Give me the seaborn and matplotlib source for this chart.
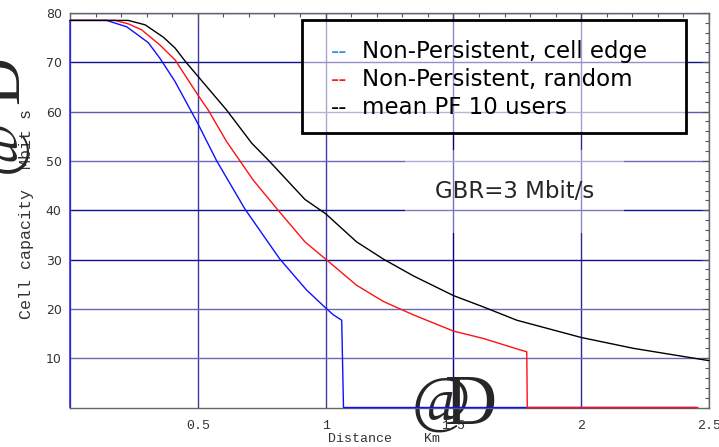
import numpy as np
import pandas as pd
import seaborn as sns
import matplotlib.pyplot as plt
from matplotlib.patches import Rectangle
from matplotlib.ticker import MultipleLocator

# values (distance in km, capacity in Mbit/s)
edge_x = [0, 0, 0.143, 0.222, 0.306, 0.352, 0.411, 0.5, 0.574, 0.685, 0.821,
          0.926, 1.0, 1.03, 1.063, 1.07, 2.45]
edge_y = [0, 78.5, 78.5, 77.2, 74.0, 70.8, 66.1, 57.6, 50.0, 40.2, 30.1,
          23.8, 20.2, 18.8, 17.7, 0, 0]

rand_x = [0, 0.176, 0.228, 0.28, 0.352, 0.411, 0.5, 0.541, 0.613, 0.665, 0.717,
          0.811, 0.919, 1.0, 1.121, 1.226, 1.343, 1.5, 1.617, 1.76, 1.787, 1.789, 2.457]
rand_y = [78.5, 78.5, 77.8, 76.6, 73.5, 70.5, 63.4, 60.3, 53.9, 50.0, 46.1,
          40.2, 33.6, 30.1, 24.8, 21.5, 18.8, 15.5, 14.0, 11.7, 11.3, 0, 0]

pf_x = [0, 0.228, 0.294, 0.365, 0.411, 0.454, 0.5, 0.613, 0.711, 0.779, 0.919,
        1.0, 1.121, 1.226, 1.343, 1.5, 1.617, 1.748, 2.0, 2.204, 2.5]
pf_y = [78.5, 78.5, 77.6, 75.1, 72.9, 70.0, 67.2, 60.3, 53.6, 50.0, 42.2,
        39.3, 33.6, 30.1, 26.7, 22.7, 20.4, 17.7, 14.2, 12.0, 9.5]

legend_labels = ["Non-Persistent, cell edge", "Non-Persistent, random", "mean PF 10 users"]
legend_colors = ["#2f8fd8", "#ff1a1a", "black"]
x_ticks = [0.5, 1, 1.5, 2, 2.5]
x_tick_labels = ["0.5", "1", "1.5", "2", "2.5"]
y_ticks = [10, 20, 30, 40, 50, 60, 70, 80]
annotation = "GBR=3 Mbit/s"

W, H = 719, 447


def fxy(x, y):
    # pixel position -> figure fraction
    return x / W, 1 - y / H


sns.set_style("white")
plt.rcParams['font.family'] = ['DejaVu Sans']

fig = plt.figure(figsize=(W / 100, H / 100), dpi=100)
ax = fig.add_axes([70 / W, 1 - 407.5 / H, 639 / W, 394.5 / H])

series = [
    (edge_x, edge_y, "#1010ff"),
    (rand_x, rand_y, "#ff1010"),
    (pf_x, pf_y, "black"),
]
for xs, ys, col in series:
    df = pd.DataFrame({"x": xs, "y": ys})
    sns.lineplot(data=df, x="x", y="y", sort=False, estimator=None, ax=ax,
                 color=col, linewidth=1.0, clip_on=False, zorder=3)

ax.set_xlim(0, 2.5)
ax.set_ylim(0, 80)
ax.set_xlabel("")
ax.set_ylabel("")

ax.set_xticks(x_ticks)
ax.set_xticklabels(x_tick_labels, family="Liberation Mono", fontsize=9.5, color="#333333")
ax.set_yticks(y_ticks)
ax.set_yticklabels([str(v) for v in y_ticks], fontsize=9, color="#333333")
ax.xaxis.set_minor_locator(MultipleLocator(0.1))
ax.yaxis.set_minor_locator(MultipleLocator(2))
ax.tick_params(which="both", direction="in", top=True, right=True, color="#555555")
ax.tick_params(which="major", length=5, width=0.8)
ax.tick_params(which="minor", length=3, width=0.8)
ax.tick_params(axis="x", which="major", pad=9)
ax.tick_params(axis="y", which="major", pad=6)
for s in ax.spines.values():
    s.set_color("#666666")
    s.set_linewidth(1.0)

# grid lines, some rendered darker than others in the original
ax.grid(True, which="major", linewidth=1.0)
ygrid_cols = ["#6868b8", "#6868b8", "#10108a", "#10108a", "#6a6ab8", "#5a5ab0", "#10108a", "#10108a"]
for gl, c in zip(ax.get_ygridlines(), ygrid_cols):
    gl.set_color(c)
xgrid_cols = ["#3a3aa0", "#3c3ca5", "#000080", "#2a2a95", "#2a2a95"]
for gl, c in zip(ax.get_xgridlines(), xgrid_cols):
    gl.set_color(c)
ax.set_axisbelow(True)

# legend drawn as a boxed text block
ax.add_patch(Rectangle((0.363, 0.696), 0.601, 0.286, transform=ax.transAxes,
                       facecolor=(1, 1, 1, 0.55), edgecolor="black", linewidth=2, zorder=4))
for i, (lab, col) in enumerate(zip(legend_labels, legend_colors)):
    yy = 0.902 - i * 0.0705
    ax.text(0.408, yy, "--", color=col, fontsize=16.5, va="center", transform=ax.transAxes, zorder=5)
    ax.text(0.457, yy, lab, color="black", fontsize=16.5, va="center", transform=ax.transAxes, zorder=5)

ax.text(0.696, 0.547, annotation, fontsize=16.5, ha="center", va="center", transform=ax.transAxes,
        zorder=5, bbox=dict(boxstyle="square,pad=1.3", facecolor=(1, 1, 1, 0.45), edgecolor="none"))

# axis labels, with the oversized bracket glyphs of the original export
fig.text(*fxy(328, 439), "Distance    Km", family="Liberation Mono", fontsize=9.5,
         color="#333333", ha="left", va="center")
ax.text(*fxy(441, 405), "@", family="Liberation Serif", fontsize=46, ha="center", va="center",
        transform=fig.transFigure, clip_on=False, zorder=1)
ax.text(*fxy(471, 407), "D", family="Liberation Serif", fontsize=52, ha="center", va="center",
        transform=fig.transFigure, clip_on=False, zorder=1)

fig.text(*fxy(27, 214), "Cell capacity  Mbit s", family="Liberation Mono", fontsize=12,
         color="#333333", rotation=90, ha="center", va="center")
fig.text(*fxy(2, 146), "@", family="Liberation Serif", fontsize=42, rotation=90,
         ha="center", va="center")
fig.text(*fxy(2, 80), "D", family="Liberation Serif", fontsize=48, rotation=90,
         ha="center", va="center")

fig.savefig("out.png", dpi=100)
